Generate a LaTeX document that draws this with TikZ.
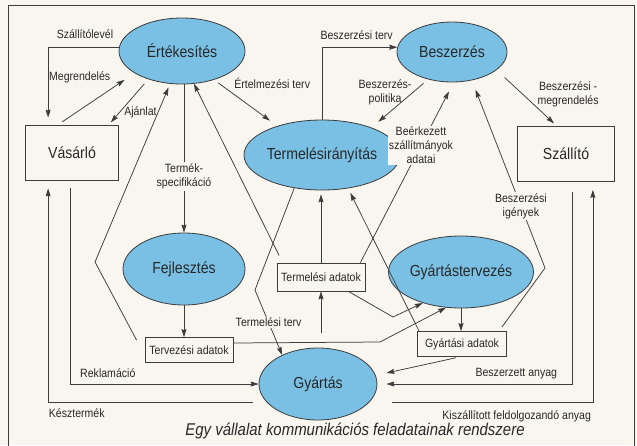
\documentclass[tikz,border=0pt]{standalone}
\usepackage{fontspec}
\setmainfont{Liberation Sans}[FakeStretch=0.88]
\usetikzlibrary{shapes.geometric}
\usetikzlibrary{arrows.meta}
\usetikzlibrary{calc}
\definecolor{papir}{RGB}{248,246,239}
\definecolor{vonal}{RGB}{60,60,60}
\definecolor{kek}{RGB}{122,192,228}
\definecolor{betu}{RGB}{40,40,40}
\newcommand{\nagybetu}{\fontsize{16}{18}\selectfont}
\newcommand{\kisbetu}{\fontsize{12}{14}\selectfont}

\begin{document}
\begin{tikzpicture}[x=1pt,y=-1pt, >={Stealth[length=8pt,width=5pt,inset=1pt]},
  ovalis/.style={ellipse, draw=vonal, fill=kek, line width=0.8pt, inner sep=0pt, font=\nagybetu, text=betu},
  doboz/.style={draw=vonal, fill=papir, line width=0.75pt, inner sep=0pt, text=betu},
  cimke/.style={font=\kisbetu, text=betu, inner sep=1pt},
  nyil/.style={->, draw=vonal, line width=0.75pt}]
\useasboundingbox (0,0) rectangle (637,445);
\fill[papir] (0,0) rectangle (637,445);
\draw[vonal, line width=0.9pt] (8,447)--(8,5)--(634,5)--(634,447);

% ovalis csomopontok
\node[ovalis, minimum width=126pt, minimum height=66pt] (ert) at (182,51) {Értékesítés};
\node[ovalis, minimum width=110pt, minimum height=60pt] (besz) at (452,52) {Beszerzés};
\node[ovalis, minimum width=120pt, minimum height=70pt] (tir) at (322,155) {Termelésirányítás};
\node[ovalis, minimum width=122pt, minimum height=72pt] (fejl) at (184,269) {Fejlesztés};
\node[ovalis, minimum width=122pt, minimum height=72pt] (gyt) at (461,272) {Gyártástervezés};
\node[ovalis, minimum width=118pt, minimum height=72pt] (gyar) at (318,384) {Gyártás};

% dobozok
\node[doboz, font=\nagybetu, minimum width=93pt, minimum height=55pt] (vas) at (72,152.5) {Vásárló};
\node[doboz, font=\nagybetu, minimum width=97pt, minimum height=55pt] (szal) at (566,154) {Szállító};
\node[doboz, font=\kisbetu, minimum width=88pt, minimum height=28pt] (tad) at (321,277) {Termelési adatok};
\node[doboz, font=\kisbetu, minimum width=88pt, minimum height=25pt] (tvad) at (189,350) {Tervezési adatok};
\node[doboz, font=\kisbetu, minimum width=89pt, minimum height=25pt] (gyad) at (462,344) {Gyártási adatok};

% vevo oldal
\draw[nyil, shorten >=7pt] (ert.177) -| node[cimke, pos=0.24, above=8pt]{Szállítólevél} ([xshift=23pt]vas.north west);
\draw[nyil, shorten <=5pt, shorten >=12pt] ([xshift=33pt]vas.north west) -- node[cimke, pos=0.7, anchor=south east, yshift=4pt]{Megrendelés} (ert.205);
\draw[nyil, shorten <=6pt, shorten >=3pt] (ert.220) -- node[cimke, pos=0.72, anchor=west, xshift=3pt]{Ajánlat} ([xshift=-10pt]vas.north east);
\draw[nyil, shorten <=8pt] ([xshift=45pt]vas.south west) |- node[cimke, pos=0.6, above=5pt]{Reklamáció} (gyar.west);
\draw[nyil, shorten >=8pt] ([xshift=-6pt,yshift=-18pt]gyar.west) -| node[cimke, pos=0.43, below=5pt]{Késztermék} ([xshift=23pt]vas.south west);

% ertekesites es termelesiranyitas
\draw[nyil, shorten <=5pt, shorten >=9pt] (ert.318) -- node[cimke, pos=0.3, anchor=south west, yshift=4pt]{Értelmezési terv} (tir.147);
\draw[nyil] (fejl.north |- ert.south) -- node[cimke, fill=papir, align=center, inner ysep=2pt, pos=0.62]{Termék-\\specifikáció} (fejl.north);
\draw[nyil] (fejl.south) -- (fejl.south |- tvad.north);
\draw[nyil, shorten >=4pt] ([xshift=-8pt,yshift=-3pt]tvad.north west) -- (95,262) -- (ert.250);
\draw[nyil, shorten <=8pt] ([xshift=6pt]tad.north west) -- (ert.290);
\draw[nyil] (tir.north) |- node[cimke, pos=0.73, above=6pt]{Beszerzési terv} (besz.175);
\draw[nyil] (tir.230) -- (255,290) -- node[cimke, fill=papir, pos=0.5]{Termelési terv} (gyar.141);
\draw[nyil, shorten >=4pt] (tad.north) -- (tad.north |- tir.south);
\draw[nyil, shorten <=15pt] (tad.south |- gyar.north) -- (tad.south);
\draw[nyil, shorten >=5pt] ([xshift=2pt]gyad.north west) -- (tir.308);

% gyartastervezes
\draw[nyil] ([xshift=-17pt]tad.south east) -- (393,317) -- (gyt.219);
\draw[nyil] ([yshift=7pt]tvad.east) -- (380,342) -- (gyt.247);
\draw[nyil] (gyt.south) -- (gyt.south |- gyad.north);
\draw[nyil, shorten <=4pt] ([xshift=-2pt]gyad.south) -- ([xshift=9pt,yshift=11pt]gyar.east);

% beszerzes es szallito
\draw[nyil, shorten <=6pt, shorten >=9pt] (besz.229) -- node[cimke, pos=0.27, anchor=east, align=center]{Beszerzés-\\politika} (tir.29);
\draw[nyil, shorten >=10pt] ([xshift=-5pt]tad.north east) -- node[cimke, fill=papir, align=center, pos=0.65]{Beérkezett\\szállítmányok\\adatai} (besz.273);
\draw[nyil, shorten >=10pt] ([xshift=-5pt,yshift=4pt]gyad.north east) -- (545,268) -- node[cimke, fill=papir, align=center, pos=0.33]{Beszerzési\\igények} (besz.305);
\draw[nyil, shorten <=11pt, shorten >=4pt] (besz.338) -- node[cimke, pos=0.44, anchor=west, xshift=13pt, align=center]{Beszerzési -\\megrendelés} ([xshift=-9pt]szal.north);
\draw[nyil, shorten <=10pt] ([xshift=6pt]szal.south) |- node[cimke, pos=0.65, above=4pt]{Beszerzett anyag} ([xshift=9pt]gyar.east);
\draw[nyil, shorten >=8pt] ([xshift=15pt,yshift=-18pt]gyar.east) -| node[cimke, pos=0.31, below=7pt]{Kiszállított feldolgozandó anyag} ([xshift=-22pt]szal.south east);

\node[font=\fontsize{17}{19}\selectfont\itshape, text=betu] (cim) at (355,431) {Egy vállalat kommunikációs feladatainak rendszere};
\end{tikzpicture}
\end{document}
